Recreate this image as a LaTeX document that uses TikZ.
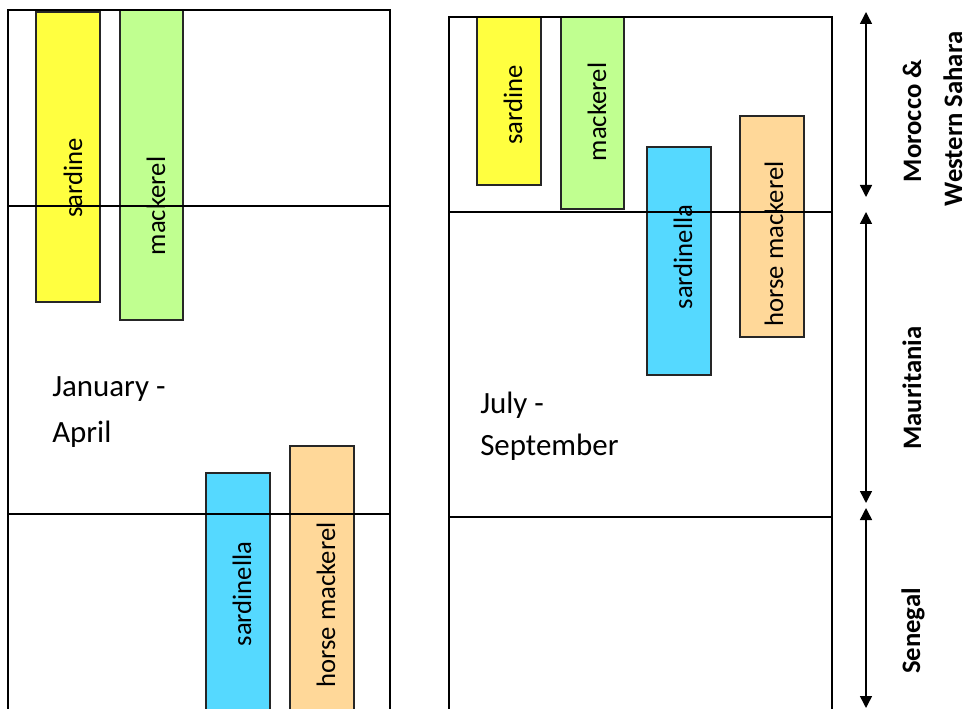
\documentclass[tikz,border=0pt]{standalone}
\usepackage{fontspec}
\setmainfont{Carlito}
\usetikzlibrary{arrows.meta}
\definecolor{cSardine}{HTML}{FFFF40}
\definecolor{cMackerel}{HTML}{C0FF90}
\definecolor{cSardinella}{HTML}{55D9FF}
\definecolor{cHorse}{HTML}{FFD899}
\tikzset{
  bar/.style={draw=black!85, line width=0.8pt},
  grid/.style={draw=black, line width=1pt},
  barlabel/.style={rotate=90, anchor=base, inner sep=0pt, font=\fontsize{20}{24}\selectfont},
  regionlabel/.style={rotate=90, anchor=base, inner sep=0pt, font=\fontsize{20}{24}\selectfont\bfseries},
  periodlabel/.style={anchor=base west, inner sep=0pt, font=\fontsize{23.2}{28}\selectfont},
  regionarrow/.style={draw=black, line width=1.1pt, {Triangle[width=9pt,length=9pt]}-{Triangle[width=9pt,length=9pt]}}
}
\begin{document}
\begin{tikzpicture}[x=0.75pt, y=-0.75pt]
\useasboundingbox (0,0) rectangle (967,709);
\fill[white] (0,0) rectangle (967,709);

% bars, left panel
\path[bar, fill=cSardine] (36,12) rectangle (100,302);
\path[bar, fill=cMackerel] (120,10) rectangle (183,320);
\path[bar, fill=cSardinella] (206,473) rectangle (270,714);
\path[bar, fill=cHorse] (290,446) rectangle (354,714);

% bars, right panel
\path[bar, fill=cSardine] (477,17) rectangle (541,185);
\path[bar, fill=cMackerel] (561,17) rectangle (624,209);
\path[bar, fill=cSardinella] (647,147) rectangle (711,375);
\path[bar, fill=cHorse] (740,116) rectangle (804,337);

% left panel frame
\path[grid] (8,714) -- (8,10) -- (390,10) -- (390,714);
\path[grid] (8,206) -- (390,206);
\path[grid] (8,514) -- (390,514);

% right panel frame
\path[grid] (449,714) -- (449,17) -- (832,17) -- (832,714);
\path[grid] (449,212) -- (832,212);
\path[grid] (449,517) -- (832,517);

% bar labels
\node[barlabel] (lsar) at (82,178) {sardine};
\node[barlabel] (lmac) at (165,206) {mackerel};
\node[barlabel] (lsnl) at (251,594) {sardinella};
\node[barlabel] (lhor) at (335,605) {horse mackerel};
\node[barlabel] (rsar) at (522,105) {sardine};
\node[barlabel] (rmac) at (606,112) {mackerel};
\node[barlabel] (rsnl) at (692,257) {sardinella};
\node[barlabel] (rhor) at (783,244) {horse mackerel};

% period labels
\node[periodlabel] (jan1) at (52,396) {January -};
\node[periodlabel] (jan2) at (52,442) {April};
\node[periodlabel] (jul1) at (480,413) {July -};
\node[periodlabel] (jul2) at (480,455) {September};

% region arrows
\coordinate (a1t) at (866,12);
\coordinate (a1b) at (866,197);
\coordinate (a2t) at (866,212);
\coordinate (a2b) at (866,503);
\coordinate (a3t) at (866,508);
\coordinate (a3b) at (866,708);
\draw[regionarrow] (a1t) -- (a1b);
\draw[regionarrow] (a2t) -- (a2b);
\draw[regionarrow] (a3t) -- (a3b);

% region labels
\node[regionlabel] (mor1) at (921,121) {Morocco \&};
\node[regionlabel] (mor2) at (962,119) {Western Sahara};
\node[regionlabel] (mau) at (921,388) {Mauritania};
\node[regionlabel] (sen) at (920,631) {Senegal};
\end{tikzpicture}
\end{document}
